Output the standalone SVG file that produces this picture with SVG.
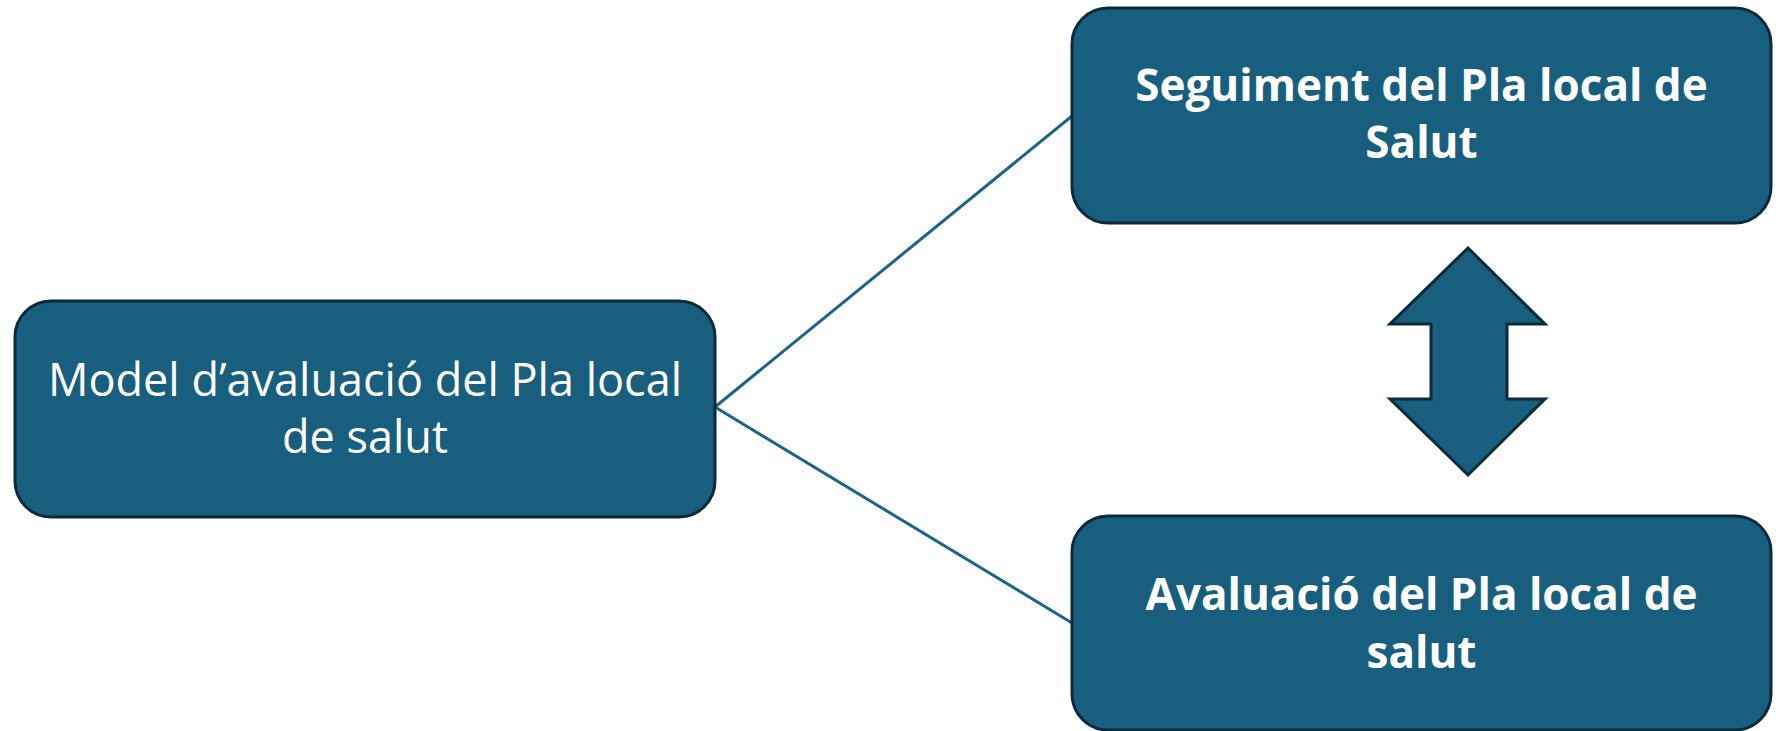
<svg xmlns="http://www.w3.org/2000/svg" width="1780" height="731" viewBox="0 0 1780 731">
  <style>
    .box { fill: #175E7F; stroke: #0C2A3A; stroke-width: 3; }
    .link { stroke: #1A6587; stroke-width: 3; fill: none; }
    .lbl { fill: #FFFFFF; font-family: "Open Sans", "Liberation Sans", sans-serif; font-size: 45px; text-anchor: middle; }
    .lbl-b { font-weight: bold; font-size: 44px; }
  </style>
  <rect width="1780" height="731" fill="#FFFFFF"/>

  <!-- connectors -->
  <g id="connectors">
    <line class="link" x1="715" y1="407" x2="1072" y2="116"/>
    <line class="link" x1="715" y1="407" x2="1072" y2="623"/>
  </g>

  <!-- model box -->
  <g id="model">
    <rect class="box" x="15" y="301" width="700" height="216" rx="36" ry="36"/>
    <text class="lbl" x="365" y="396">Model d’avaluació del Pla local</text>
    <text class="lbl" x="365" y="453">de salut</text>
  </g>

  <!-- follow-up box -->
  <g id="seguiment">
    <rect class="box" x="1072" y="8" width="699" height="215" rx="36" ry="36"/>
    <text class="lbl lbl-b" x="1421.5" y="101">Seguiment del Pla local de</text>
    <text class="lbl lbl-b" x="1421.5" y="158">Salut</text>
  </g>

  <!-- evaluation box -->
  <g id="avaluacio">
    <rect class="box" x="1072" y="516" width="699" height="214" rx="36" ry="36"/>
    <text class="lbl lbl-b" x="1421.5" y="610">Avaluació del Pla local de</text>
    <text class="lbl lbl-b" x="1421.5" y="668">salut</text>
  </g>

  <!-- two-way arrow -->
  <g id="double-arrow">
    <polygon class="box" points="1468,248 1545,324 1507,324 1507,399 1545,399 1468,475 1390,399 1431,399 1431,324 1390,324"/>
  </g>
</svg>
